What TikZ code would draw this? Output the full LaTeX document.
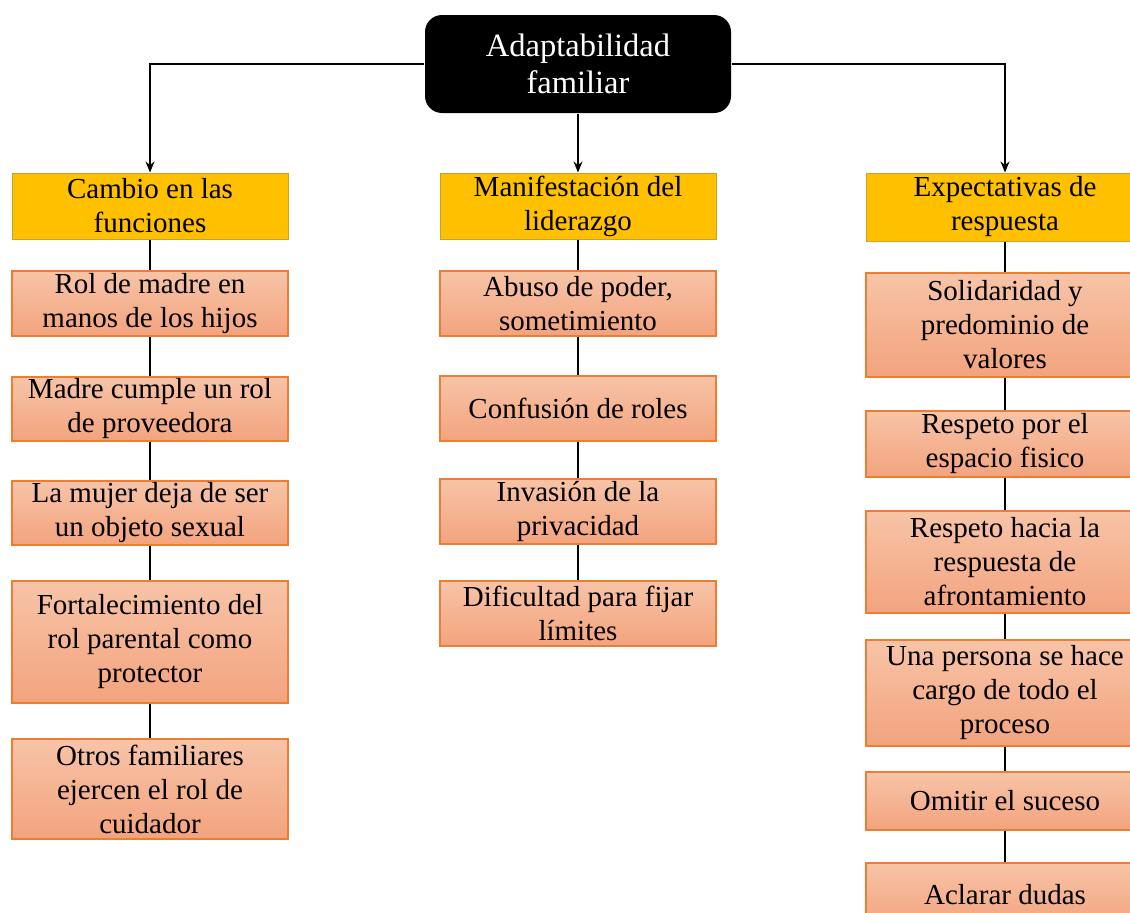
\documentclass[tikz,border=0pt]{standalone}
\usepackage{fontspec}
\setmainfont{Liberation Serif}
\usetikzlibrary{arrows.meta}

\definecolor{gold}{HTML}{FFC000}
\definecolor{goldline}{HTML}{C9A227}
\definecolor{peachtop}{HTML}{F7C4A7}
\definecolor{peachbot}{HTML}{F3A37E}
\definecolor{peachline}{HTML}{ED7D31}

\begin{document}
\begin{tikzpicture}[x=1pt, y=-1pt, line width=1.4pt,
    >={Stealth[length=11pt,width=9pt]},
    every node/.style={align=center, inner sep=0pt,
        font=\fontsize{29}{34}\selectfont},
    rootbox/.style={fill=black, text=white, rounded corners=17pt,
        minimum width=306pt, minimum height=98pt,
        font=\fontsize{32.5}{37}\selectfont},
    catbox/.style={fill=gold, draw=goldline, line width=1pt,
        minimum width=276pt},
    itembox/.style={top color=peachtop, bottom color=peachbot,
        draw=peachline, line width=1.4pt, minimum width=276pt}]
    \clip (0,0) rectangle (1130,913);
          \node[rootbox] (root) at (578,64) {Adaptabilidad\\familiar};
          % left column
          \node[catbox, minimum height=66pt] (cambio) at (150,206) {Cambio en las\\funciones};
          \node[itembox, minimum height=65pt] (rol) at (150,303.5) {Rol de madre en\\manos de los hijos};
          \node[itembox, minimum height=64pt] (madre) at (150,409) {Madre cumple un rol\\de proveedora};
          \node[itembox, minimum height=64pt] (mujer) at (150,513) {La mujer deja de ser\\un objeto sexual};
          \node[itembox, minimum height=122pt] (fortal) at (150,642) {Fortalecimiento del\\rol parental como\\protector};
          \node[itembox, minimum height=100pt] (otros) at (150,789) {Otros familiares\\ejercen el rol de\\cuidador};
          % middle column
          \node[catbox, minimum height=66pt] (manif) at (578,206) {Manifestación del\\liderazgo};
          \node[itembox, minimum height=65pt] (abuso) at (578,303.5) {Abuso de poder,\\sometimiento};
          \node[itembox, minimum height=65pt] (confus) at (578,408.5) {Confusión de roles};
          \node[itembox, minimum height=65pt] (invas) at (578,511.5) {Invasión de la\\privacidad};
          \node[itembox, minimum height=65pt] (dific) at (578,613.5) {Dificultad para fijar\\límites};
          % right column
          \node[catbox, minimum width=278pt, minimum height=68pt] (expect) at (1005,207) {Expectativas de\\respuesta};
          \node[itembox, minimum width=278pt, minimum height=104pt] (solid) at (1005,325) {Solidaridad y\\predominio de\\valores};
          \node[itembox, minimum width=278pt, minimum height=66pt] (espacio) at (1005,444) {Respeto por el\\espacio fisico};
          \node[itembox, minimum width=278pt, minimum height=102pt] (afront) at (1005,562) {Respeto hacia la\\respuesta de\\afrontamiento};
          \node[itembox, minimum width=278pt, minimum height=106pt] (persona) at (1005,693) {Una persona se hace\\cargo de todo el\\proceso};
          \node[itembox, minimum width=278pt, minimum height=58pt] (omitir) at (1005,801) {Omitir el suceso};
          \node[itembox, minimum width=278pt, minimum height=64pt] (dudas) at (1005,895) {Aclarar dudas};

          \draw[->] (root.west) -| (cambio.north);
          \draw[->] (root) -- (manif);
          \draw[->] (root.east) -| (expect.north);
          \draw (cambio) -- (rol) -- (madre) -- (mujer) -- (fortal) -- (otros);
          \draw (manif) -- (abuso) -- (confus) -- (invas) -- (dific);
          \draw (expect) -- (solid) -- (espacio) -- (afront) -- (persona) -- (omitir) -- (dudas);
    \end{tikzpicture}
\end{document}
